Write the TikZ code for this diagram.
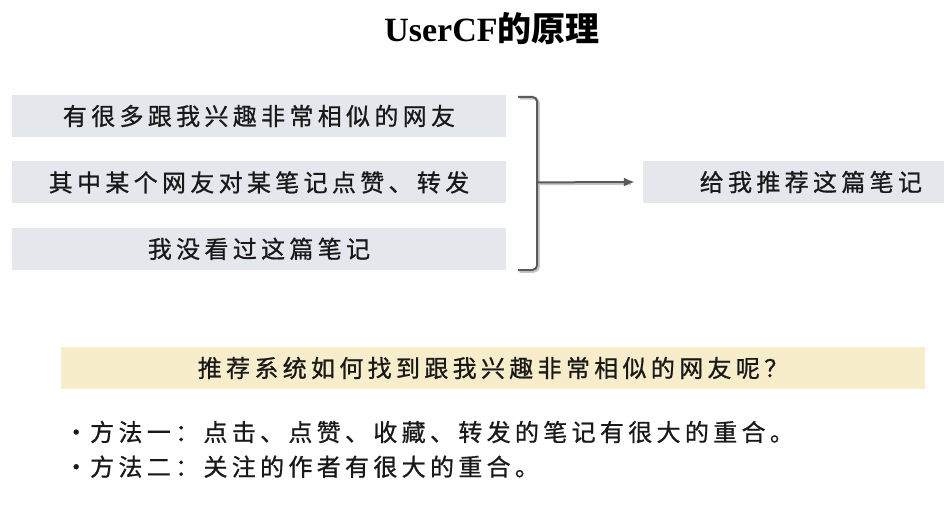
\documentclass[tikz,border=0pt]{standalone}
\usepackage{fontspec}
\setmainfont{Liberation Serif}
\newfontfamily\cjk{Noto Sans CJK SC}
\usetikzlibrary{arrows.meta,positioning}
\definecolor{boxgray}{HTML}{E4E7EC}
\definecolor{askyellow}{HTML}{F7EDCA}
\definecolor{brkgray}{HTML}{5A5A5A}

\begin{document}
\begin{tikzpicture}[
  x=1pt,y=-1pt,
  node distance=24pt and 9mm,
  cn/.style={font=\cjk\fontsize{24}{28}\selectfont\addfontfeatures{LetterSpace=18,FakeBold=0.8},text=black!90},
  cond/.style={cn,fill=boxgray,minimum width=494pt,minimum height=42pt,inner sep=0pt},
  res/.style={cn,fill=boxgray,minimum height=42pt,inner ysep=0pt,inner xsep=22pt,text width=257pt,align=right},
  ask/.style={cn,fill=askyellow,minimum width=864pt,minimum height=42pt,inner sep=0pt},
  item/.style={cn,inner sep=0pt,anchor=west},
  brk/.style={brkgray,line width=2pt,rounded corners=5pt},
  shade/.style={black!22,line width=2.5pt,rounded corners=5pt},
  arr/.style={brkgray,line width=2pt,-{Latex[length=11pt,width=9pt]}}
]
\useasboundingbox (0,0) rectangle (944,522);

\node[font=\fontsize{34}{40}\selectfont\bfseries] (title) at (492,29) {UserCF{\cjk 的原理}};

\node[cond] (c1) at (259,116) {有很多跟我兴趣非常相似的网友};
\node[cond,below=of c1] (c2) {其中某个网友对某笔记点赞、转发};
\node[cond,below=of c2] (c3) {我没看过这篇笔记};

\node[res] (rec) at (793.5,182) {给我推荐这篇笔记};

% bracket
\coordinate (brk) at ([xshift=31pt]c2.east);
\draw[shade] ([shift={(13.5,3.5)}]c1.north east) -- ++(19,0) -- ([shift={(32.5,1.5)}]c3.south east) -- ++(-19,0);
\draw[shade] ([shift={(1.5,1.5)}]brk) -- ([shift={(-12,1.5)}]rec.west);
\draw[brk] ([shift={(12,2)}]c1.north east) -- ++(19,0) -- ([shift={(31,0)}]c3.south east) -- ++(-19,0);
\draw[arr] (brk) -- ([xshift=-8pt]rec.west);

\node[ask] (ask) at (493,368) {推荐系统如何找到跟我兴趣非常相似的网友呢？};

\node[item] (m1) at (64,432) {•\hspace{2pt}方法一：点击、点赞、收藏、转发的笔记有很大的重合。};
\node[item,below=12pt of m1.south west,anchor=north west] (m2) {•\hspace{2pt}方法二：关注的作者有很大的重合。};
\end{tikzpicture}
\end{document}
